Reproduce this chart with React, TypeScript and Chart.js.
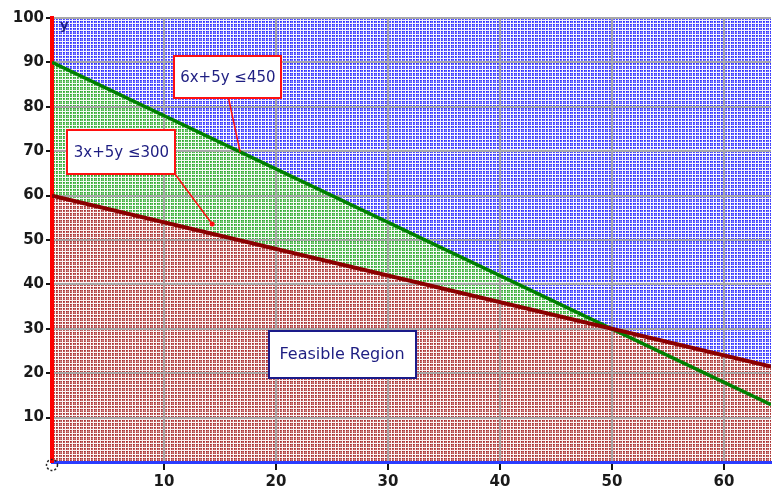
import React, { useEffect, useRef } from "react";
import { Chart, registerables } from "chart.js";

Chart.register(...registerables);

// ---- data ----
const xMin = 0;
const xMax = 64.2;
const yMin = 0;
const yMax = 100;
const xTickValues = [10, 20, 30, 40, 50, 60];
const yTickValues = [10, 20, 30, 40, 50, 60, 70, 80, 90, 100];

// constraint 6x + 5y = 450 (green) : endpoints
const greenXs = [0, 64.2];
const greenYs = [90, 12.9];
// constraint 3x + 5y = 300 (maroon)
const redXs = [0, 64.2];
const redYs = [60, 21.5];
// upper background region
const blueXs = [0, 64.2];
const blueYs = [100, 100];

// annotation labels
const labelTexts = ["6x+5y \u2264450", "3x+5y \u2264300", "Feasible Region"];
const labelCenters = [
  [15.7, 86.6],
  [6.2, 69.8],
  [25.9, 24.3],
];
const leaderTargets = [
  [16.8, 69.8],
  [14.3, 53.6],
];
const axisName = "y";

function makePattern(base: [number, number, number]) {
  const w = [1, 0.75, 0, 1, 0.6, 0.85, 0];
  const n = w.length;
  const c = document.createElement("canvas");
  c.width = n;
  c.height = n;
  const g = c.getContext("2d")!;
  for (let i = 0; i < n; i++) {
    for (let j = 0; j < n; j++) {
      const v = w[i] * w[j];
      const m = v > 0 ? 0.28 + 0.55 * v : 0.04;
      const r = Math.round(255 + (base[0] - 255) * m);
      const gg = Math.round(255 + (base[1] - 255) * m);
      const b = Math.round(255 + (base[2] - 255) * m);
      g.fillStyle = `rgb(${r},${gg},${b})`;
      g.fillRect(i, j, 1, 1);
    }
  }
  return g.createPattern(c, "repeat")!;
}

const annotPlugin = {
  id: "annot",
  afterDatasetsDraw(chart: any) {
    const { ctx } = chart;
    const xs = chart.scales.x;
    const ys = chart.scales.y;
    const px = (v: number) => xs.getPixelForValue(v);
    const py = (v: number) => ys.getPixelForValue(v);
    ctx.save();

    const sizes = [
      [107, 42],
      [108, 44],
      [147, 47],
    ];
    const borders = ["#ff1010", "#ff1010", "#1a1a8a"];
    const fonts = ["15px 'DejaVu Sans'", "15px 'DejaVu Sans'", "16px 'DejaVu Sans'"];
    const boxes: number[][] = [];
    labelTexts.forEach((t, i) => {
      const cx = px(labelCenters[i][0]);
      const cy = py(labelCenters[i][1]);
      const [w, h] = sizes[i];
      const l = Math.round(cx - w / 2);
      const tp = Math.round(cy - h / 2);
      boxes.push([l, tp, w, h]);
      ctx.fillStyle = "#ffffff";
      ctx.fillRect(l, tp, w, h);
      ctx.strokeStyle = borders[i];
      ctx.lineWidth = 2;
      ctx.strokeRect(l, tp, w, h);
      ctx.fillStyle = "#1e1e82";
      ctx.font = fonts[i];
      ctx.textAlign = "center";
      ctx.textBaseline = "middle";
      ctx.fillText(t, cx, cy + 1);
    });

    ctx.strokeStyle = "#ff1010";
    ctx.fillStyle = "#ff1010";
    ctx.lineWidth = 1.5;
    {
      const [l, tp, w, h] = boxes[0];
      ctx.beginPath();
      ctx.moveTo(l + w / 2 + 1, tp + h);
      ctx.lineTo(px(leaderTargets[0][0]), py(leaderTargets[0][1]));
      ctx.stroke();
    }
    {
      const [l, tp, w, h] = boxes[1];
      ctx.beginPath();
      ctx.moveTo(l + w, tp + h);
      ctx.lineTo(px(leaderTargets[1][0]), py(leaderTargets[1][1]));
      ctx.stroke();
      ctx.beginPath();
      ctx.arc(px(leaderTargets[1][0]), py(leaderTargets[1][1]), 2.5, 0, Math.PI * 2);
      ctx.fill();
    }

    ctx.fillStyle = "#1e1e82";
    ctx.font = "bold 13px 'DejaVu Sans'";
    ctx.textAlign = "left";
    ctx.textBaseline = "top";
    ctx.fillText(axisName, px(xMin) + 8, py(yMax) + 1);

    ctx.strokeStyle = "#222";
    ctx.lineWidth = 1.5;
    ctx.setLineDash([2, 2]);
    ctx.beginPath();
    ctx.arc(px(xMin), py(yMin) + 3, 5.5, 0, Math.PI * 2);
    ctx.stroke();
    ctx.setLineDash([]);
    ctx.restore();
  },
};

export default function App() {
  const ref = useRef<HTMLCanvasElement>(null);
  useEffect(() => {
    document.body.style.margin = "0";
    const canvas = ref.current!;
    const bluePat = makePattern([0, 0, 255]);
    const greenPat = makePattern([0, 150, 0]);
    const redPat = makePattern([150, 0, 0]);

    const toPts = (xs: number[], ys: number[]) => xs.map((x, i) => ({ x, y: ys[i] }));

    const tickFont = { family: "'DejaVu Sans'", size: 15, weight: "bold" as const };

    const chart = new Chart(canvas, {
      type: "line",
      data: {
        datasets: [
          {
            data: toPts(redXs, redYs),
            borderColor: "#8b0000",
            borderWidth: 4,
            backgroundColor: redPat as any,
            fill: "origin",
            pointRadius: 0,
          },
          {
            data: toPts(greenXs, greenYs),
            borderColor: "#008000",
            borderWidth: 3.5,
            backgroundColor: greenPat as any,
            fill: "origin",
            pointRadius: 0,
          },
          {
            data: toPts(blueXs, blueYs),
            borderWidth: 0,
            borderColor: "rgba(0,0,0,0)",
            backgroundColor: bluePat as any,
            fill: "origin",
            pointRadius: 0,
          },
        ],
      },
      options: {
        animation: false,
        responsive: false,
        devicePixelRatio: 1,
        layout: { padding: { top: 18, right: 12, left: 0, bottom: 0 } },
        plugins: {
          legend: { display: false },
          tooltip: { enabled: false },
          filler: { drawTime: "beforeDraw" } as any,
        },
        scales: {
          x: {
            type: "linear",
            min: xMin,
            max: xMax,
            afterBuildTicks: (s: any) => {
              s.ticks = xTickValues.map((value) => ({ value }));
            },
            afterFit: (s: any) => {
              s.height = 42;
            },
            ticks: {
              color: "#1a1a1a",
              font: tickFont,
              padding: 3,
              maxRotation: 0,
              autoSkip: false,
            },
            grid: {
              color: "#a8a8a8",
              lineWidth: 2,
              tickColor: "#111",
              tickLength: 8,
            },
            border: { color: "#2a3cff", width: 3 },
          },
          y: {
            type: "linear",
            min: yMin,
            max: yMax,
            afterBuildTicks: (s: any) => {
              s.ticks = yTickValues.map((value) => ({ value }));
            },
            afterFit: (s: any) => {
              s.width = 52;
            },
            ticks: {
              color: "#1a1a1a",
              font: tickFont,
              padding: 2,
              autoSkip: false,
            },
            grid: {
              color: "#a8a8a8",
              lineWidth: 2,
              tickColor: "#111",
              tickLength: 6,
            },
            border: { color: "#ff0000", width: 4 },
          },
        },
      },
      plugins: [annotPlugin],
    });
    return () => chart.destroy();
  }, []);

  return (
    <div style={{ width: 783, height: 504 }}>
      <canvas ref={ref} width={783} height={504} style={{ display: "block" }} />
    </div>
  );
}
